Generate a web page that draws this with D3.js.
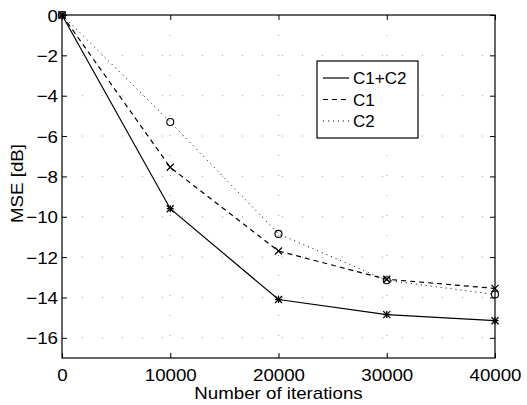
<!DOCTYPE html>
<html>
<head>
<meta charset="utf-8">
<script src="https://cdn.jsdelivr.net/npm/d3@7"></script>
<style>
  body { margin: 0; background: #fff; }
  text { font-family: "Liberation Sans", Arial, Helvetica, sans-serif; fill: #000; }
</style>
</head>
<body>
<div id="chart"></div>
<script>
// data
const iterations = [0, 10000, 20000, 30000, 40000];
const mseC1C2 = [0, -9.6, -14.1, -14.85, -15.15];
const mseC1 = [0, -7.55, -11.7, -13.1, -13.55];
const mseC2 = [0, -5.3, -10.85, -13.15, -13.85];
const xTicks = [0, 10000, 20000, 30000, 40000];
const yTicks = [0, -2, -4, -6, -8, -10, -12, -14, -16];
const legendNames = ["C1+C2", "C1", "C2"];

const W = 527, H = 405;
const margin = { left: 62, right: 32, top: 15, bottom: 47 };
const innerW = W - margin.left - margin.right;
const innerH = H - margin.top - margin.bottom;
const stretch = 1.1;

const svg = d3.select("#chart").append("svg")
  .attr("width", W)
  .attr("height", H);

const x = d3.scaleLinear().domain([0, 40000]).range([0, innerW]);
const y = d3.scaleLinear().domain([-17, 0]).range([innerH, 0]);

const g = svg.append("g").attr("transform", `translate(${margin.left},${margin.top})`);

// widen text a bit like the scanned figure
function widen(sel, k) {
  sel.each(function () {
    const len = this.getComputedTextLength();
    d3.select(this).attr("textLength", len * k).attr("lengthAdjust", "spacingAndGlyphs");
  });
}

// sparse dotted grid
g.append("g")
  .selectAll("line")
  .data(xTicks.slice(1, -1))
  .join("line")
  .attr("x1", d => x(d)).attr("x2", d => x(d))
  .attr("y1", 0).attr("y2", innerH)
  .attr("stroke", "#999").attr("stroke-width", 1)
  .attr("stroke-dasharray", "1,19");

g.append("g")
  .selectAll("line")
  .data(yTicks.slice(1))
  .join("line")
  .attr("x1", 0).attr("x2", innerW)
  .attr("y1", d => y(d)).attr("y2", d => y(d))
  .attr("stroke", "#999").attr("stroke-width", 1)
  .attr("stroke-dasharray", "1,19");

// axes, ticks pointing inward
const tickLen = 5;
const xAxisB = g.append("g").attr("transform", `translate(0,${innerH})`)
  .call(d3.axisBottom(x).tickValues(xTicks).tickSize(-tickLen).tickPadding(10).tickFormat(d3.format("d")));
const xAxisT = g.append("g")
  .call(d3.axisTop(x).tickValues(xTicks).tickSize(-tickLen).tickFormat(""));
const yAxisL = g.append("g")
  .call(d3.axisLeft(y).tickValues(yTicks).tickSize(-tickLen).tickPadding(4)
    .tickFormat(d => d < 0 ? "\u2212" + Math.abs(d) : d));
const yAxisR = g.append("g").attr("transform", `translate(${innerW},0)`)
  .call(d3.axisRight(y).tickValues(yTicks).tickSize(-tickLen).tickFormat(""));

[xAxisB, xAxisT, yAxisL, yAxisR].forEach(a => {
  a.select(".domain").remove();
  a.selectAll(".tick line").attr("stroke", "#000");
});
xAxisB.selectAll(".tick text").style("font-size", "17px").attr("dy", "0.75em");
yAxisL.selectAll(".tick text").style("font-size", "17px").attr("dy", "0.36em");
widen(xAxisB.selectAll(".tick text"), stretch);
widen(yAxisL.selectAll(".tick text"), stretch);

g.append("rect")
  .attr("width", innerW).attr("height", innerH)
  .attr("fill", "none").attr("stroke", "#000").attr("stroke-width", 1.2);

// series lines
const line = d3.line().x((d, i) => x(iterations[i])).y(d => y(d));
const series = [
  { name: legendNames[0], values: mseC1C2, dash: null, marker: "star", width: 1.2 },
  { name: legendNames[1], values: mseC1, dash: "5,4", marker: "x", width: 1.2 },
  { name: legendNames[2], values: mseC2, dash: "1,4", marker: "o", width: 1 }
];

series.forEach(s => {
  g.append("path")
    .datum(s.values)
    .attr("d", line)
    .attr("fill", "none")
    .attr("stroke", "#000")
    .attr("stroke-width", s.width)
    .attr("stroke-dasharray", s.dash);
});

// markers
function drawMarker(sel, type, cx, cy) {
  const r = 3.5;
  if (type === "o") {
    sel.append("circle").attr("cx", cx).attr("cy", cy).attr("r", r)
      .attr("fill", "none").attr("stroke", "#000").attr("stroke-width", 1.1);
    return;
  }
  const segs = [[-r, -r, r, r], [-r, r, r, -r]];
  if (type === "star") segs.push([-r, 0, r, 0], [0, -r, 0, r]);
  segs.forEach(s => {
    sel.append("line")
      .attr("x1", cx + s[0]).attr("y1", cy + s[1])
      .attr("x2", cx + s[2]).attr("y2", cy + s[3])
      .attr("stroke", "#000").attr("stroke-width", 1.3);
  });
}

series.forEach(s => {
  const mg = g.append("g");
  s.values.forEach((v, i) => drawMarker(mg, s.marker, x(iterations[i]), y(v)));
});

// axis titles
const xTitle = svg.append("text")
  .attr("x", margin.left + innerW / 2)
  .attr("y", 399)
  .attr("text-anchor", "middle")
  .style("font-size", "17px")
  .text("Number of iterations");
widen(xTitle, stretch);

const yTitle = svg.append("text")
  .attr("transform", `translate(23,${margin.top + innerH / 2 - 3}) rotate(-90)`)
  .attr("text-anchor", "middle")
  .style("font-size", "17px")
  .text("MSE [dB]");
widen(yTitle, stretch);

// legend
const leg = svg.append("g").attr("transform", "translate(317,61)");
leg.append("rect")
  .attr("width", 101).attr("height", 77)
  .attr("fill", "#fff").attr("stroke", "#000").attr("stroke-width", 1.2);

series.forEach((s, i) => {
  const ly = 17 + i * 21.5;
  leg.append("line")
    .attr("x1", 6).attr("x2", 32)
    .attr("y1", ly).attr("y2", ly)
    .attr("stroke", "#000").attr("stroke-width", s.width)
    .attr("stroke-dasharray", s.dash);
  leg.append("text")
    .attr("x", 36).attr("y", ly)
    .attr("dy", "0.36em")
    .style("font-size", "17px")
    .text(s.name);
});
</script>
</body>
</html>
